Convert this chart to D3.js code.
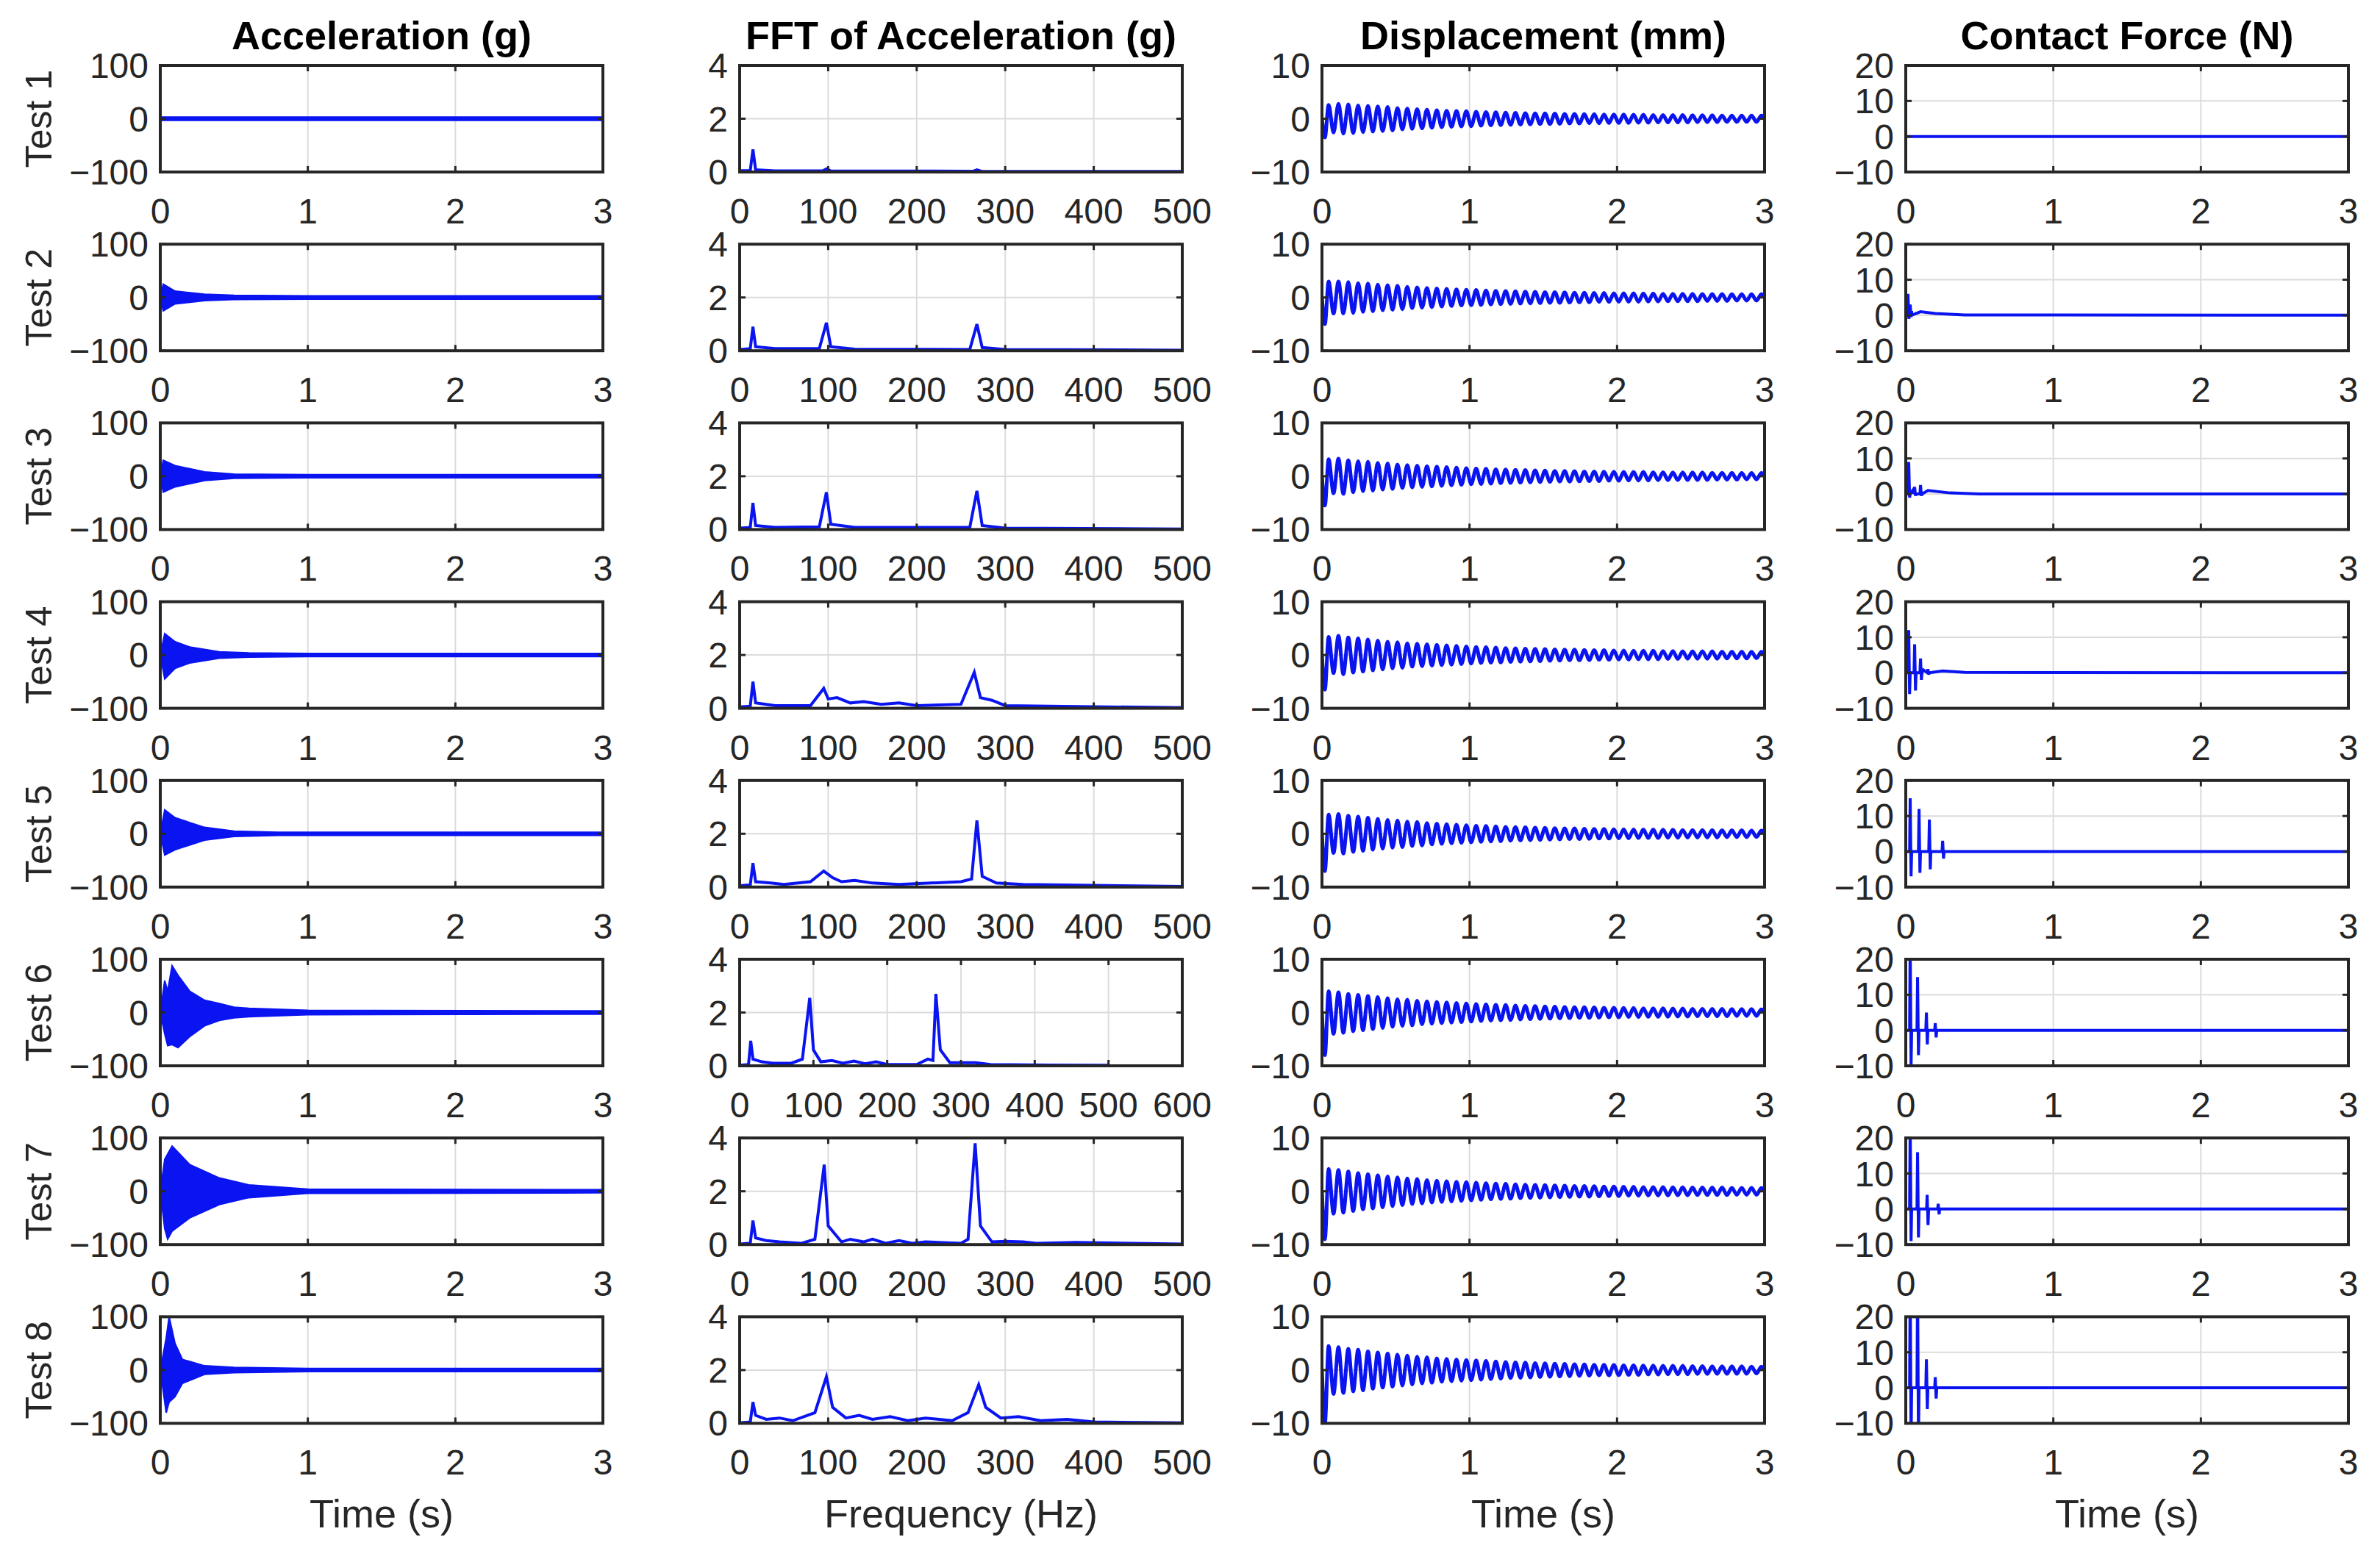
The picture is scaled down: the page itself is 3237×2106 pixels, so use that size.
<!DOCTYPE html>
<html>
<head>
<meta charset="utf-8">
<script src="https://cdn.jsdelivr.net/npm/d3@7"></script>
<style>
  body { margin: 0; background: #fff; }
  text { font-family: "Liberation Sans", Arial, sans-serif; fill: #262626; }
</style>
</head>
<body>
<div id="grafica"></div>
<script>
// chart data
var tests = ["Test 1","Test 2","Test 3","Test 4","Test 5","Test 6","Test 7","Test 8"];
var colTitles = ["Acceleration (g)","FFT of Acceleration (g)","Displacement (mm)","Contact Force (N)"];
var xLabels = ["Time (s)","Frequency (Hz)","Time (s)","Time (s)"];
var timeTicks = [0,1,2,3];
var freqTicks = [0,100,200,300,400,500];
var freqTicks6 = [0,100,200,300,400,500,600];
var accTicks = [-100,0,100];
var fftTicks = [0,2,4];
var dispTicks = [-10,0,10];
var forceTicks = [-10,0,10,20];

// acceleration envelope: [t, upper, lower]
var accEnv = [
  [[0,3,-3],[3,3,-3]],
  [[0,0,0],[0.02,25,-25],[0.1,12,-12],[0.3,6,-6],[0.5,4,-4],[1,3,-3],[3,3,-3]],
  [[0,0,0],[0.02,30,-30],[0.1,20,-20],[0.3,8,-8],[0.5,4,-4],[1,3,-3],[3,3,-3]],
  [[0,0,0],[0.03,40,-45],[0.1,25,-25],[0.2,15,-15],[0.4,6,-6],[0.6,4,-4],[1,3,-3],[3,3,-3]],
  [[0,0,0],[0.03,45,-40],[0.1,30,-30],[0.3,12,-12],[0.5,5,-5],[0.8,3,-3],[3,3,-3]],
  [[0,0,0],[0.03,60,-40],[0.05,40,-62],[0.08,88,-60],[0.12,70,-66],[0.2,40,-45],[0.3,23,-25],[0.4,17,-15],[0.5,10,-10],[0.6,8,-8],[1,4,-4],[3,3,-3]],
  [[0,0,0],[0.03,60,-70],[0.05,70,-90],[0.08,85,-75],[0.2,50,-50],[0.4,25,-25],[0.6,12,-12],[1,4,-4],[3,3,-3]],
  [[0,0,0],[0.04,60,-80],[0.06,100,-60],[0.1,50,-50],[0.15,20,-25],[0.3,8,-8],[0.5,5,-5],[1,3,-3],[3,3,-3]]
];

// FFT magnitude: [Hz, value]
var fftData = [
  [[0,0.05],[12,0.05],[15,0.85],[18,0.08],[40,0.04],[94,0.04],[98,0.12],[103,0.04],[264,0.03],[268,0.08],[273,0.03],[500,0.02]],
  [[0,0.05],[12,0.08],[15,0.9],[18,0.15],[40,0.08],[90,0.08],[98,1.05],[103,0.15],[130,0.06],[260,0.05],[268,1.0],[274,0.12],[300,0.05],[500,0.02]],
  [[0,0.05],[12,0.08],[15,1.0],[18,0.15],[40,0.08],[90,0.1],[98,1.4],[103,0.2],[130,0.08],[260,0.08],[268,1.45],[274,0.15],[300,0.05],[500,0.02]],
  [[0,0.05],[12,0.08],[15,1.0],[18,0.2],[40,0.1],[80,0.1],[95,0.75],[100,0.35],[110,0.4],[125,0.2],[140,0.25],[160,0.15],[180,0.2],[200,0.1],[250,0.15],[265,1.35],[272,0.4],[285,0.3],[300,0.1],[500,0.02]],
  [[0,0.05],[12,0.08],[15,0.9],[18,0.2],[35,0.15],[50,0.1],[80,0.2],[95,0.6],[105,0.35],[115,0.2],[130,0.25],[150,0.15],[180,0.1],[250,0.2],[262,0.3],[268,2.5],[274,0.4],[290,0.15],[320,0.1],[500,0.02]],
  [[0,0.02],[12,0.05],[15,0.94],[18,0.25],[30,0.15],[45,0.1],[70,0.1],[85,0.25],[95,2.55],[100,0.6],[110,0.15],[125,0.2],[140,0.1],[155,0.18],[170,0.08],[185,0.15],[200,0.05],[240,0.05],[255,0.25],[262,0.2],[266,2.7],[272,0.6],[285,0.12],[300,0.12],[320,0.12],[340,0.05],[420,0.03],[500,0.02]],
  [[0,0.02],[12,0.05],[15,0.9],[18,0.25],[30,0.15],[45,0.1],[70,0.05],[85,0.2],[95.5,3.0],[100,0.7],[115,0.1],[125,0.2],[140,0.1],[150,0.2],[165,0.05],[180,0.15],[195,0.05],[210,0.1],[250,0.05],[258,0.2],[266,3.8],[272,0.7],[285,0.1],[300,0.12],[320,0.1],[335,0.05],[380,0.08],[500,0.02]],
  [[0,0.02],[12,0.05],[15,0.8],[18,0.3],[30,0.15],[45,0.2],[60,0.1],[85,0.4],[98,1.75],[105,0.6],[120,0.2],[135,0.3],[150,0.15],[170,0.25],[190,0.1],[210,0.2],[240,0.1],[258,0.4],[270,1.45],[278,0.6],[295,0.2],[315,0.25],[340,0.1],[370,0.15],[400,0.05],[500,0.02]]
];

// displacement: first dip, then positive peak amplitude of each cycle (about 15 cycles/s)
var dispDip = [-3.5,-5,-5.5,-6.5,-7,-8,-9,-10];
var dispPeaks = [
  [2.6,2.8,2.7,2.5,2.4,2.3,2.2,2.0,1.9,1.8,1.7,1.6,1.5,1.45,1.4,1.3,1.25,1.2,1.15,1.1,1.05,1.0,1.0,0.95,0.9,0.9,0.85,0.85,0.8,0.8,0.8,0.75,0.75,0.7,0.7,0.7,0.7,0.65,0.65,0.65,0.6,0.6,0.6,0.6,0.6],
  [3.0,3.0,2.9,2.7,2.6,2.4,2.3,2.2,2.0,1.9,1.8,1.7,1.6,1.5,1.45,1.4,1.3,1.25,1.2,1.15,1.1,1.05,1.0,1.0,0.95,0.9,0.9,0.85,0.85,0.8,0.8,0.8,0.75,0.75,0.7,0.7,0.7,0.7,0.65,0.65,0.65,0.6,0.6,0.6,0.6],
  [3.2,3.3,3.0,2.8,2.7,2.5,2.4,2.2,2.1,2.0,1.9,1.8,1.7,1.6,1.5,1.45,1.4,1.3,1.25,1.2,1.15,1.1,1.05,1.0,1.0,0.95,0.9,0.9,0.85,0.85,0.8,0.8,0.8,0.75,0.75,0.7,0.7,0.7,0.7,0.65,0.65,0.65,0.6,0.6,0.6],
  [3.4,3.6,3.3,3.1,2.9,2.7,2.5,2.4,2.2,2.1,2.0,1.9,1.8,1.7,1.6,1.5,1.45,1.4,1.3,1.25,1.2,1.15,1.1,1.05,1.0,1.0,0.95,0.9,0.9,0.85,0.85,0.8,0.8,0.8,0.75,0.75,0.7,0.7,0.7,0.7,0.65,0.65,0.65,0.6,0.6],
  [3.6,3.7,3.4,3.2,3.0,2.8,2.6,2.5,2.3,2.2,2.0,1.9,1.8,1.7,1.6,1.5,1.45,1.4,1.3,1.25,1.2,1.15,1.1,1.05,1.0,1.0,0.95,0.9,0.9,0.85,0.85,0.8,0.8,0.8,0.75,0.75,0.7,0.7,0.7,0.7,0.65,0.65,0.65,0.6,0.6],
  [4.0,3.8,3.5,3.3,3.1,2.9,2.7,2.5,2.4,2.2,2.1,2.0,1.9,1.8,1.7,1.6,1.5,1.45,1.4,1.3,1.25,1.2,1.15,1.1,1.05,1.0,1.0,0.95,0.9,0.9,0.85,0.85,0.8,0.8,0.8,0.75,0.75,0.7,0.7,0.7,0.7,0.65,0.65,0.65,0.6],
  [4.2,4.0,3.7,3.4,3.2,3.0,2.8,2.6,2.4,2.3,2.1,2.0,1.9,1.8,1.7,1.6,1.5,1.45,1.4,1.3,1.25,1.2,1.15,1.1,1.05,1.0,1.0,0.95,0.9,0.9,0.85,0.85,0.8,0.8,0.8,0.75,0.75,0.7,0.7,0.7,0.7,0.65,0.65,0.65,0.6],
  [4.5,4.3,4.0,3.8,3.5,3.3,3.1,2.9,2.7,2.5,2.4,2.2,2.1,2.0,1.9,1.8,1.7,1.6,1.5,1.45,1.4,1.3,1.25,1.2,1.15,1.1,1.05,1.0,1.0,0.95,0.9,0.9,0.85,0.85,0.8,0.8,0.8,0.75,0.75,0.7,0.7,0.7,0.7,0.65,0.65]
];
var dispCycle = 1 / 15;

// contact force: baseline [t, v] and spikes [t, up, down]
var forceBase = [
  [[0,0],[3,0]],
  [[0,0],[0.04,1.2],[0.1,1],[0.2,0.5],[0.4,0.1],[3,0]],
  [[0,0],[0.05,1.2],[0.15,1],[0.3,0.3],[0.5,0],[3,0]],
  [[0,0],[0.12,0.8],[0.25,0.5],[0.4,0.1],[3,0]],
  [[0,0],[3,0]],
  [[0,0],[3,0]],
  [[0,0],[3,0]],
  [[0,0],[3,0]]
];
var forceSpikes = [
  [],
  [[0.015,6,-1],[0.03,3,-0.5]],
  [[0.02,9,-1],[0.06,2,-0.5],[0.1,2.5,-0.5]],
  [[0.02,12,-6],[0.06,8,-5],[0.1,4,-2],[0.15,1,-0.5]],
  [[0.03,15,-7],[0.09,12,-6],[0.16,9,-5],[0.25,3,-2]],
  [[0.03,25,-10],[0.08,15,-7],[0.14,5,-4],[0.2,2,-2]],
  [[0.03,25,-9],[0.08,16,-8],[0.145,4,-4.5],[0.22,1.5,-1.5]],
  [[0.03,30,-15],[0.08,30,-15],[0.14,8,-6],[0.2,3,-3]]
];

var W = 3237, H = 2106;
var colLeft = [218, 1006, 1798, 2592], pw = 602, ph = 145;
var rowTop0 = 89, rowStep = 243.2;
var blue = "#0a14f0";
var fs = 48;

var svg = d3.select("#grafica").append("svg")
  .attr("width", W).attr("height", H);

var fmt = function(d) { return d < 0 ? "\u2212" + Math.abs(d) : String(d); };

function panel(r, c) {
  var left = colLeft[c], top = rowTop0 + r * rowStep;
  var g = svg.append("g").attr("transform", `translate(${left},${top})`);
  var xTicks, yTicks, xDom, yDom;
  if (c == 0) { xDom = [0,3]; xTicks = timeTicks; yDom = [-100,100]; yTicks = accTicks; }
  if (c == 1) { xDom = r == 5 ? [0,600] : [0,500]; xTicks = r == 5 ? freqTicks6 : freqTicks; yDom = [0,4]; yTicks = fftTicks; }
  if (c == 2) { xDom = [0,3]; xTicks = timeTicks; yDom = [-10,10]; yTicks = dispTicks; }
  if (c == 3) { xDom = [0,3]; xTicks = timeTicks; yDom = [-10,20]; yTicks = forceTicks; }
  var x = d3.scaleLinear().domain(xDom).range([0, pw]);
  var y = d3.scaleLinear().domain(yDom).range([ph, 0]);

  // grid
  g.append("g").selectAll("line").data(xTicks.slice(1, -1)).join("line")
    .attr("x1", d => x(d)).attr("x2", d => x(d)).attr("y1", 0).attr("y2", ph)
    .attr("stroke", "#dcdcdc").attr("stroke-width", 2);
  g.append("g").selectAll("line").data(yTicks.slice(1, -1)).join("line")
    .attr("y1", d => y(d)).attr("y2", d => y(d)).attr("x1", 0).attr("x2", pw)
    .attr("stroke", "#dcdcdc").attr("stroke-width", 2);

  var id = "clip" + r + "_" + c;
  g.append("clipPath").attr("id", id).append("rect").attr("width", pw).attr("height", ph);
  var plot = g.append("g").attr("clip-path", `url(#${id})`);

  if (c == 0) {
    var env = accEnv[r];
    plot.append("path").datum(env)
      .attr("fill", blue).attr("stroke", blue).attr("stroke-width", 2)
      .attr("d", d3.area().x(d => x(d[0])).y0(d => y(d[2])).y1(d => y(d[1])));
  }
  if (c == 1) {
    plot.append("path").datum(fftData[r])
      .attr("fill", "none").attr("stroke", blue).attr("stroke-width", 4)
      .attr("d", d3.line().x(d => x(d[0])).y(d => y(d[1])));
  }
  if (c == 2) {
    var pts = [[0, 0], [0.02, dispDip[r]]];
    dispPeaks[r].forEach(function(a, k) {
      pts.push([0.045 + k * dispCycle, a]);
      pts.push([0.045 + (k + 0.5) * dispCycle, -a]);
    });
    plot.append("path").datum(pts)
      .attr("fill", "none").attr("stroke", blue).attr("stroke-width", 5)
      .attr("d", d3.line().curve(d3.curveMonotoneX).x(d => x(d[0])).y(d => y(d[1])));
  }
  if (c == 3) {
    var pts = [];
    forceBase[r].forEach(function(p) { pts.push(p); });
    forceSpikes[r].forEach(function(s) {
      pts.push([s[0] - 0.004, 0], [s[0], s[1]], [s[0] + 0.006, s[2]], [s[0] + 0.01, 0]);
    });
    pts.sort((a, b) => a[0] - b[0]);
    plot.append("path").datum(pts)
      .attr("fill", "none").attr("stroke", blue).attr("stroke-width", 4)
      .attr("d", d3.line().x(d => x(d[0])).y(d => y(d[1])));
  }

  // box + ticks
  g.append("rect").attr("width", pw).attr("height", ph)
    .attr("fill", "none").attr("stroke", "#262626").attr("stroke-width", 4);
  g.append("g").selectAll("line").data(xTicks).join("line")
    .attr("x1", d => x(d)).attr("x2", d => x(d)).attr("y1", ph).attr("y2", ph - 8)
    .attr("stroke", "#262626").attr("stroke-width", 3);
  g.append("g").selectAll("line").data(xTicks).join("line")
    .attr("x1", d => x(d)).attr("x2", d => x(d)).attr("y1", 0).attr("y2", 8)
    .attr("stroke", "#262626").attr("stroke-width", 3);
  g.append("g").selectAll("line").data(yTicks).join("line")
    .attr("y1", d => y(d)).attr("y2", d => y(d)).attr("x1", 0).attr("x2", 8)
    .attr("stroke", "#262626").attr("stroke-width", 3);
  g.append("g").selectAll("line").data(yTicks).join("line")
    .attr("y1", d => y(d)).attr("y2", d => y(d)).attr("x1", pw).attr("x2", pw - 8)
    .attr("stroke", "#262626").attr("stroke-width", 3);

  g.append("g").selectAll("text").data(xTicks).join("text")
    .attr("x", d => x(d)).attr("y", ph + 70)
    .attr("text-anchor", "middle").style("font-size", fs + "px").text(fmt);
  g.append("g").selectAll("text").data(yTicks).join("text")
    .attr("x", -16).attr("y", d => y(d) + 17)
    .attr("text-anchor", "end").style("font-size", fs + "px").text(fmt);

  if (c == 0) {
    g.append("text")
      .attr("transform", `translate(${52 - left},${ph / 2}) rotate(-90)`)
      .attr("text-anchor", "middle").attr("dy", "0.35em")
      .style("font-size", "50px").text(tests[r]);
  }
  if (r == 0) {
    g.append("text").attr("x", pw / 2).attr("y", -22)
      .attr("text-anchor", "middle").style("font-size", "54px").style("font-weight", "bold")
      .style("fill", "#000").text(colTitles[c]);
  }
  if (r == 7) {
    g.append("text").attr("x", pw / 2).attr("y", ph + 142)
      .attr("text-anchor", "middle").style("font-size", "54px").text(xLabels[c]);
  }
}

tests.forEach(function(t, r) {
  for (var c = 0; c < 4; c++) panel(r, c);
});
</script>
</body>
</html>
